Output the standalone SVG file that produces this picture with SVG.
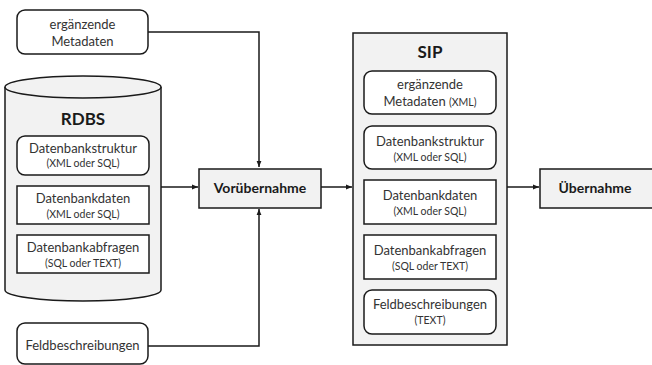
<svg xmlns="http://www.w3.org/2000/svg" width="652" height="365" viewBox="0 0 652 365">
<style>
.box{fill:#ffffff;stroke:#1a1a1a;stroke-width:1.5}
.gray{fill:#f2f2f2;stroke:#1a1a1a;stroke-width:1.5}
.t{font-family:Lato,"Liberation Sans",sans-serif;font-size:13px;fill:#333;text-anchor:middle}
.s{font-family:Lato,"Liberation Sans",sans-serif;font-size:10.5px;fill:#333;text-anchor:middle}
.b{font-family:Lato,"Liberation Sans",sans-serif;font-size:14px;font-weight:bold;fill:#1a1a1a;text-anchor:middle}
.h{font-family:Lato,"Liberation Sans",sans-serif;font-size:17px;font-weight:bold;fill:#1a1a1a;text-anchor:middle}
.c{fill:none;stroke:#1a1a1a;stroke-width:1.5}
</style>
<defs>
<marker id="ah" viewBox="0 0 10 10" refX="10" refY="5" markerWidth="6" markerHeight="6" orient="auto" markerUnits="userSpaceOnUse">
<path d="M0,1 L10,5 L0,9 z" fill="#1a1a1a"/>
</marker>
</defs>
<g id="connectors">
<path class="c" d="M148,32 H259 V167" marker-end="url(#ah)"/>
<path class="c" d="M148,346 H259 V209" marker-end="url(#ah)"/>
<path class="c" d="M161,187 H198" marker-end="url(#ah)"/>
<path class="c" d="M321,187 H352" marker-end="url(#ah)"/>
<path class="c" d="M507,187 H539" marker-end="url(#ah)"/>
</g>
<g id="meta">
<rect class="box" x="17" y="10" width="131" height="44" rx="8"/>
<text class="t" x="82.5" y="29">ergänzende</text>
<text class="t" x="82.5" y="46">Metadaten</text>
</g>
<g id="rdbs">
<path class="gray" d="M5,87 V290 A78,11 0 0 0 161,290 V87"/>
<ellipse class="gray" cx="83" cy="87" rx="78" ry="11"/>
<text class="h" x="83" y="125">RDBS</text>
</g>
<g id="rdbs-struktur">
<rect class="box" x="17" y="136" width="132" height="39" rx="8"/>
<text class="t" x="83" y="153">Datenbankstruktur</text>
<text class="s" x="83" y="167">(XML oder SQL)</text>
</g>
<g id="rdbs-daten">
<rect class="box" x="17" y="186" width="132" height="38"/>
<text class="t" x="83" y="203">Datenbankdaten</text>
<text class="s" x="83" y="218">(XML oder SQL)</text>
</g>
<g id="rdbs-abfragen">
<rect class="box" x="17" y="235" width="132" height="38"/>
<text class="t" x="83" y="252">Datenbankabfragen</text>
<text class="s" x="83" y="267">(SQL oder TEXT)</text>
</g>
<g id="feld">
<rect class="box" x="17" y="323" width="131" height="41" rx="8"/>
<text class="t" x="82.5" y="350">Feldbeschreibungen</text>
</g>
<g id="vorubernahme">
<rect class="gray" x="199" y="169" width="122" height="39"/>
<text class="b" x="260" y="193">Vorübernahme</text>
</g>
<g id="sip">
<rect class="gray" x="353" y="33" width="154" height="312"/>
<text class="h" x="430" y="58">SIP</text>
</g>
<g id="sip-meta">
<rect class="box" x="364" y="71" width="132" height="43" rx="8"/>
<text class="t" x="430" y="89">ergänzende</text>
<text class="t" x="430" y="106">Metadaten <tspan font-size="10.5px">(XML)</tspan></text>
</g>
<g id="sip-struktur">
<rect class="box" x="364" y="126" width="132" height="43" rx="8"/>
<text class="t" x="430" y="146">Datenbankstruktur</text>
<text class="s" x="430" y="161">(XML oder SQL)</text>
</g>
<g id="sip-daten">
<rect class="box" x="364" y="180" width="132" height="44"/>
<text class="t" x="430" y="200">Datenbankdaten</text>
<text class="s" x="430" y="215">(XML oder SQL)</text>
</g>
<g id="sip-abfragen">
<rect class="box" x="364" y="235" width="132" height="44"/>
<text class="t" x="430" y="255">Datenbankabfragen</text>
<text class="s" x="430" y="270">(SQL oder TEXT)</text>
</g>
<g id="sip-feld">
<rect class="box" x="364" y="290" width="132" height="44" rx="8"/>
<text class="t" x="430" y="309">Feldbeschreibungen</text>
<text class="s" x="430" y="324">(TEXT)</text>
</g>
<g id="ubernahme">
<rect class="gray" x="540" y="169" width="115" height="39"/>
<text class="b" x="595" y="193">Übernahme</text>
</g>
</svg>
